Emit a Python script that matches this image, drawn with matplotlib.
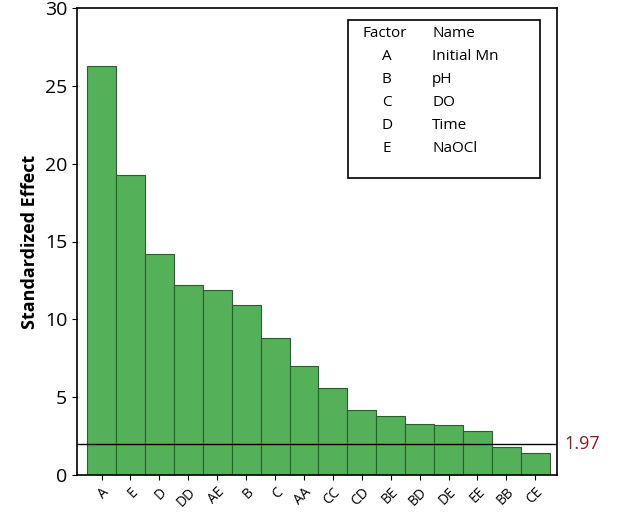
import matplotlib
matplotlib.use("Agg")
import matplotlib.pyplot as plt

terms = ["A", "E", "D", "DD", "AE", "B", "C", "AA", "CC", "CD", "BE", "BD", "DE", "EE", "BB", "CE"]
effects = [26.3, 19.3, 14.2, 12.2, 11.9, 10.9, 8.8, 7.0, 5.6, 4.2, 3.8, 3.3, 3.2, 2.8, 1.8, 1.4]
ref_value = 1.97
factors = ["A", "B", "C", "D", "E"]
names = ["Initial Mn", "pH", "DO", "Time", "NaOCl"]

plt.rcParams["font.family"] = "Open Sans"

fig = plt.figure(figsize=(6.17, 5.15), dpi=100)
ax = fig.add_axes([77 / 617, 40 / 515, 480 / 617, 467 / 515])

x = list(range(len(terms)))
ax.bar(x, effects, width=1.0, color="#55b05a", edgecolor="#2b5e2d", linewidth=0.8)
ax.axhline(ref_value, color="black", linewidth=1)
ax.text(1.015, ref_value, "%.2f" % ref_value, transform=ax.get_yaxis_transform(),
        color="#8b1a1a", fontsize=13, va="center", ha="left", clip_on=False)

ax.set_xlim(-0.85, 15.75)
ax.set_ylim(0, 30)
ax.set_yticks([0, 5, 10, 15, 20, 25, 30])
ax.set_xticks(x)
ax.set_xticklabels(terms, rotation=45, ha="right", rotation_mode="anchor", fontsize=10)
ax.tick_params(axis="y", labelsize=14)
ax.set_ylabel("Standardized Effect", fontsize=13, fontweight="bold")
for s in ax.spines.values():
    s.set_linewidth(1.2)

# factor legend box
bx0, by0, bw, bh = 0.565, 0.635, 0.40, 0.34
ax.add_patch(plt.Rectangle((bx0, by0), bw, bh, transform=ax.transAxes,
                           facecolor="white", edgecolor="black", linewidth=1.2))
lines = [("Factor", "Name")] + list(zip(factors, names))
for i, (f, n) in enumerate(lines):
    yy = 0.945 - i * 0.049
    fx = 0.595 if i == 0 else 0.645
    ax.text(fx, yy, f, transform=ax.transAxes, fontsize=11, va="center",
            ha="left" if i == 0 else "center")
    ax.text(0.74, yy, n, transform=ax.transAxes, fontsize=11, va="center", ha="left")

fig.savefig("out.png", dpi=100)
